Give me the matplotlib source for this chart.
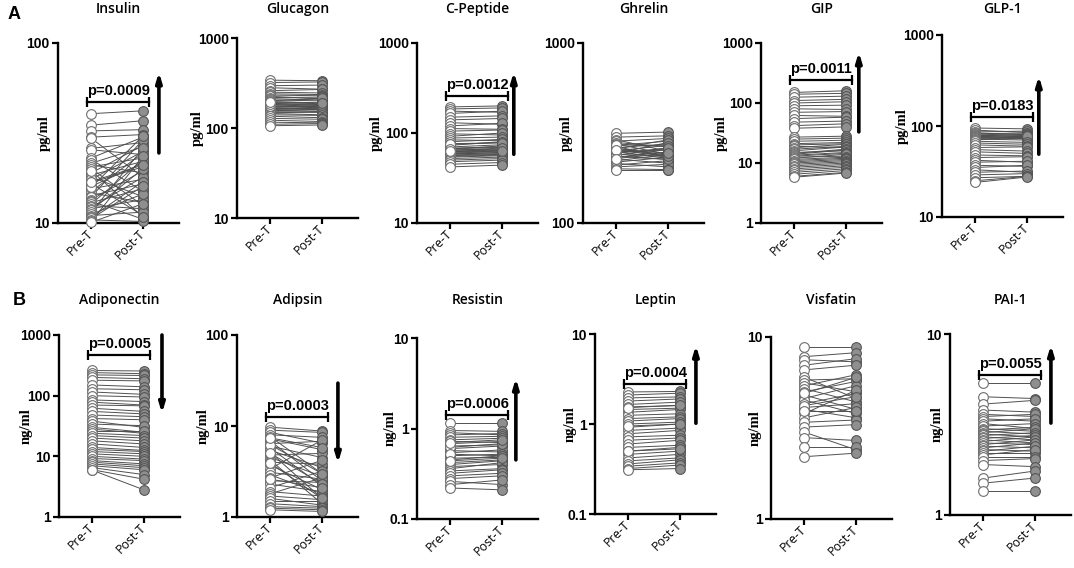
import matplotlib
matplotlib.use("Agg")
import matplotlib.pyplot as plt
import numpy as np
from matplotlib.ticker import NullLocator
from matplotlib.patches import ArrowStyle

# ---- data ----
insulin_pre = [40.5, 35, 32.5, 30, 29.5, 26, 25.5, 23, 22.5, 21.5, 21, 20.5, 20, 19, 18.5, 18, 17.5, 16.8, 16.5, 16,
               15.5, 15, 14.7, 14.2, 14, 13.5, 13.2, 13, 12.8, 12.5, 12.2, 12, 11.8, 11.5, 11.2, 11, 10.8, 10.6, 10.4,
               10.2, 10.1, 15.8, 17, 19.5]
insulin_post = [42, 37, 33, 31, 18, 28, 24, 30, 15, 26.5, 19, 23, 12.5, 27, 22, 14, 25, 20.5, 11, 21.5,
                17.5, 24.5, 13, 16.5, 29, 19.5, 10.5, 15.5, 22.5, 12, 18, 13.5, 20, 26, 14.5, 11.5, 17, 16, 10.2,
                23.5, 12.8, 30.5, 21, 10.8]

glucagon_pre = [340, 320, 295, 280, 260, 250, 240, 232, 225, 218, 212, 205, 200, 196, 192, 188, 184, 180, 176, 172,
                170, 168, 165, 162, 160, 158, 155, 152, 148, 145, 140, 135, 128, 122, 116, 110, 106, 175, 185, 195]
glucagon_post = [335, 325, 300, 270, 268, 245, 235, 228, 210, 220, 205, 200, 215, 190, 186, 182, 170, 178, 172, 168,
                 176, 160, 163, 166, 158, 152, 162, 150, 150, 140, 138, 130, 125, 118, 114, 112, 108, 172, 180, 190]

cpep_pre = [195, 185, 175, 165, 150, 140, 130, 120, 112, 105, 98, 92, 88, 84, 80, 76, 73, 70, 68, 66,
            65, 64, 63, 62, 61, 60, 59, 58, 57, 56, 55, 54, 52, 50, 48, 45, 42, 75, 67, 62.5]
cpep_post = [200, 190, 170, 175, 155, 145, 125, 128, 110, 108, 95, 100, 90, 82, 85, 78, 80, 74, 70, 72,
             66, 68, 65, 64, 63, 62, 60, 61, 59, 58, 57, 56, 54, 52, 50, 47, 44, 78, 69, 63.5]

ghrelin_pre = [315, 300, 290, 285, 280, 275, 270, 266, 262, 258, 255, 252, 250, 247, 244, 241, 238, 235, 232, 229,
               226, 222, 218, 214, 210, 205, 200, 196, 260, 272, 246, 236, 254, 228]
ghrelin_post = [320, 305, 250, 295, 265, 240, 285, 230, 275, 290, 245, 270, 228, 255, 280, 235, 262, 225, 248, 258,
                215, 240, 232, 205, 222, 212, 198, 196, 238, 268, 260, 226, 236, 244]

gip_pre = [150, 140, 125, 110, 100, 90, 80, 70, 62, 55, 48, 42, 38, 27, 25, 23, 21, 20, 19, 18, 17,
           16, 15, 14.5, 14, 13.5, 13, 12.5, 12, 11.5, 11, 10.5, 10, 9.5, 9, 8.5, 8, 7.5, 7, 6.5, 6, 5.8]
gip_post = [160, 145, 130, 115, 105, 92, 78, 72, 60, 58, 50, 45, 40, 28, 26, 24, 22, 21, 18, 20.5, 19,
            18.5, 16, 17, 16.5, 15, 14.5, 13, 14, 12.5, 12, 11.5, 11, 10.5, 10, 9.5, 9, 8.5, 8, 7.5, 7, 6.8]

glp1_pre = [95, 90, 86, 84, 82, 80, 79, 78, 77, 76, 75, 74, 73, 72, 71, 70, 68, 65, 62, 58,
            55, 52, 48, 45, 42, 40, 37, 35, 33, 31, 29, 27, 25, 24]
glp1_post = [93, 85, 88, 80, 84, 82, 76, 80, 74, 79, 72, 77, 75, 70, 73, 78, 66, 63, 60, 59,
             53, 50, 47, 46, 40, 41, 36, 37, 31, 32, 30, 28, 28, 27.5]

adipo_pre = [260, 240, 220, 200, 180, 150, 130, 115, 100, 85, 78, 70, 62, 55, 48, 42, 38, 34, 30, 28,
             26, 24, 22, 20, 18, 16, 14, 13, 12, 11, 10, 9.2, 8.5, 8, 7.5, 7, 6.5, 6, 5.9]
adipo_post = [255, 230, 215, 190, 175, 140, 125, 105, 95, 80, 70, 68, 55, 50, 45, 40, 30, 32, 25, 24,
              26, 22, 20, 18, 16, 14, 12.5, 12, 11, 10, 9, 8.5, 7.5, 7, 6.5, 6, 5, 4.2, 2.8]

adipsin_pre = [9.7, 9.0, 8.5, 8.0, 7.6, 7.2, 6.8, 6.4, 6.0, 5.7, 5.4, 5.1, 4.8, 4.5, 4.2, 4.0, 3.7, 3.4, 3.1,
               2.9, 2.7, 2.5, 2.3, 2.1, 1.9, 1.8, 1.7, 1.6, 1.5, 1.4, 1.3, 1.25, 1.2, 6.2, 5.0, 3.9, 7.4, 2.6]
adipsin_post = [8.8, 8.5, 6.5, 7.5, 3.0, 5.5, 2.5, 6.8, 4.5, 2.2, 3.5, 1.6, 5.0, 2.8, 1.4, 3.8, 2.0, 7.0, 2.6,
                1.8, 4.2, 2.4, 1.9, 3.2, 1.7, 2.7, 1.55, 1.35, 1.5, 1.3, 1.25, 1.2, 1.15, 3.0, 2.3, 1.6, 5.8, 2.1]

resistin_pre = [1.15, 0.95, 0.9, 0.85, 0.8, 0.75, 0.72, 0.68, 0.64, 0.6, 0.57, 0.54, 0.5, 0.47, 0.45,
                0.42, 0.4, 0.38, 0.36, 0.34, 0.32, 0.3, 0.28, 0.26, 0.24, 0.22, 0.62, 0.52, 0.7, 0.44]
resistin_post = [1.15, 0.93, 0.85, 0.88, 0.82, 0.78, 0.7, 0.72, 0.66, 0.64, 0.55, 0.58, 0.52, 0.48, 0.5,
                 0.45, 0.44, 0.4, 0.42, 0.36, 0.35, 0.32, 0.3, 0.24, 0.27, 0.21, 0.68, 0.5, 0.75, 0.47]

leptin_pre = [2.27, 2.1, 1.95, 1.8, 1.65, 1.55, 1.45, 1.35, 1.25, 1.15, 1.08, 1.0, 0.92, 0.85, 0.78,
              0.72, 0.66, 0.6, 0.55, 0.5, 0.46, 0.42, 0.39, 0.36, 0.34, 0.32, 0.31, 1.52, 0.95, 0.5]
leptin_post = [2.3, 2.2, 2.0, 1.9, 1.75, 1.6, 1.5, 1.45, 1.3, 1.2, 1.15, 1.05, 1.0, 0.9, 0.85,
               0.75, 0.7, 0.66, 0.58, 0.55, 0.5, 0.46, 0.42, 0.4, 0.37, 0.35, 0.32, 1.62, 1.0, 0.53]

visfatin_pre = [8.8, 7.8, 7.5, 7.0, 6.6, 6.0, 5.8, 5.6, 5.4, 5.2, 5.0, 4.8, 4.6, 4.5, 4.3, 4.1, 4.0, 3.8,
                3.6, 3.4, 3.2, 3.0, 2.8, 2.5, 2.2, 4.9, 4.2, 3.9]
visfatin_post = [8.8, 8.2, 7.3, 7.6, 7.0, 4.6, 5.9, 5.0, 6.2, 4.4, 5.7, 4.0, 5.4, 3.8, 4.9, 4.3, 3.6, 5.1,
                 4.1, 3.5, 3.3, 2.4, 2.7, 2.5, 2.3, 6.0, 4.7, 3.9]

pai1_pre = [5.36, 4.5, 4.1, 3.8, 3.6, 3.5, 3.4, 3.3, 3.2, 3.1, 3.0, 2.95, 2.9, 2.85, 2.8, 2.75, 2.7,
            2.65, 2.6, 2.55, 2.5, 2.45, 2.4, 2.35, 2.3, 2.25, 2.2, 2.15, 2.1, 2.0, 1.9, 1.6, 1.5, 1.36]
pai1_post = [5.36, 4.4, 4.3, 3.7, 3.5, 3.6, 3.3, 3.4, 3.0, 3.2, 2.9, 3.05, 2.8, 3.0, 2.7, 2.85, 2.6,
             2.75, 2.5, 2.7, 2.45, 2.6, 2.35, 2.5, 2.25, 2.4, 2.2, 2.3, 2.1, 2.05, 1.85, 1.75, 1.6, 1.36]

groups = ["Pre-T", "Post-T"]
titles = ["Insulin", "Glucagon", "C-Peptide", "Ghrelin", "GIP", "GLP-1",
          "Adiponectin", "Adipsin", "Resistin", "Leptin", "Visfatin", "PAI-1"]
units = ["pg/ml"] * 6 + ["ng/ml"] * 6
p_values = ["p=0.0009", None, "p=0.0012", None, "p=0.0011", "p=0.0183",
            "p=0.0005", "p=0.0003", "p=0.0006", "p=0.0004", None, "p=0.0055"]

pre_sets = [insulin_pre, glucagon_pre, cpep_pre, ghrelin_pre, gip_pre, glp1_pre,
            adipo_pre, adipsin_pre, resistin_pre, leptin_pre, visfatin_pre, pai1_pre]
post_sets = [insulin_post, glucagon_post, cpep_post, ghrelin_post, gip_post, glp1_post,
             adipo_post, adipsin_post, resistin_post, leptin_post, visfatin_post, pai1_post]

# ---- layout / style (pixel positions in the 1074x568 figure) ----
W, H = 1074, 568
# left, top, bottom of each plot area
boxes = [(58, 43, 223), (237, 38, 218), (417, 43, 223), (583, 43, 223), (761, 43, 223), (942, 35, 217),
         (59, 335, 517), (237, 335, 517), (417, 338, 519), (595, 334, 514), (771, 337, 519), (950, 334, 515)]
ylims = [(10, 100), (10, 1000), (10, 1000), (100, 1000), (1, 1000), (10, 1000),
         (1, 1000), (1, 100), (0.1, 10), (0.1, 10), (1, 10), (1, 10)]
label_off = [7, 33, 34, 10, 33, 33, 26, 27, 20, 18, 9, 6]
bracket_y = [47, None, 255, None, 241, 125, 465, 12.6, 1.41, 2.78, None, 5.95]
# arrow: x, start, end
arrows = [(1.31, 24.5, 69), None, (1.23, 58, 478), None, (1.25, 33, 710), (1.23, 49, 355),
          (1.35, 1000, 51), (1.31, 29.6, 3.9), (1.27, 0.45, 3.6), (1.31, 1.02, 7.5), None, (1.31, 3.22, 8.7)]
title_base = [13, 13, 13, 13, 13, 13, 304, 304, 304, 304, 304, 304]

fig = plt.figure(figsize=(W / 100, H / 100), dpi=100)
width_px = 121

for i in range(12):
    left, top, bottom = boxes[i]
    ax = fig.add_axes([left / W, 1 - bottom / H, width_px / W, (bottom - top) / H])
    ax.set_yscale("log")
    pre, post = pre_sets[i], post_sets[i]
    for a, b in zip(pre, post):
        ax.plot([0, 1], [a, b], color="#505050", lw=0.7, zorder=2, clip_on=False)
    ax.plot(np.zeros(len(pre)), pre, "o", ls="none", ms=7, mfc="white", mec="#6e6e6e",
            mew=0.8, zorder=3, clip_on=False)
    ax.plot(np.ones(len(post)), post, "o", ls="none", ms=7, mfc="#8f8f8f", mec="#555555",
            mew=0.8, zorder=3, clip_on=False)

    ax.set_xlim(-0.65, 1.7)
    lo, hi = ylims[i]
    ax.set_ylim(lo, hi)
    ticks = [10.0 ** k for k in range(int(round(np.log10(lo))), int(round(np.log10(hi))) + 1)]
    ax.set_yticks(ticks)
    ax.set_yticklabels(["%g" % t for t in ticks], fontfamily="Liberation Sans",
                       fontweight="bold", fontsize=10)
    ax.yaxis.set_minor_locator(NullLocator())
    ax.set_xticks([0, 1])
    ax.set_xticklabels(groups, rotation=45, ha="right", va="center", rotation_mode="anchor",
                       fontfamily="Open Sans", fontsize=9)
    for s in ["top", "right"]:
        ax.spines[s].set_visible(False)
    for s in ["left", "bottom"]:
        ax.spines[s].set_linewidth(1.7)
    ax.tick_params(width=1.6, length=4, pad=2, colors="black")
    ax.set_ylabel(units[i], fontfamily="Liberation Serif", fontweight="bold", fontsize=10.5)
    ax.yaxis.set_label_coords(-label_off[i] / width_px, 0.5)
    ax.patch.set_visible(False)

    if bracket_y[i] is not None:
        y = bracket_y[i]
        ax.plot([-0.08, 1.12], [y, y], color="black", lw=1.6, clip_on=False)
        ax.plot([-0.08, 1.12], [y, y], ls="none", marker="|", ms=7, mew=1.6, color="black", clip_on=False)
        ax.annotate(p_values[i], xy=(0.52, y), xytext=(0, 3), textcoords="offset points",
                    ha="center", va="bottom", fontfamily="Liberation Sans", fontweight="bold", fontsize=10.5)
    if arrows[i] is not None:
        x, y0, y1 = arrows[i]
        ax.annotate("", xy=(x, y1), xytext=(x, y0),
                    arrowprops=dict(arrowstyle=ArrowStyle("-|>", head_length=0.6, head_width=0.18),
                                    lw=2.6, color="black", mutation_scale=9, shrinkA=0, shrinkB=0),
                    annotation_clip=False)

    fig.text((left + width_px / 2) / W, 1 - title_base[i] / H, titles[i], ha="center", va="baseline",
             fontfamily="Open Sans", fontsize=10, fontweight="semibold")

fig.text(8 / W, 1 - 19 / H, "A", fontfamily="Liberation Sans", fontweight="bold", fontsize=13)
fig.text(13 / W, 1 - 305 / H, "B", fontfamily="Liberation Sans", fontweight="bold", fontsize=13)

fig.savefig("out.png", dpi=100)
